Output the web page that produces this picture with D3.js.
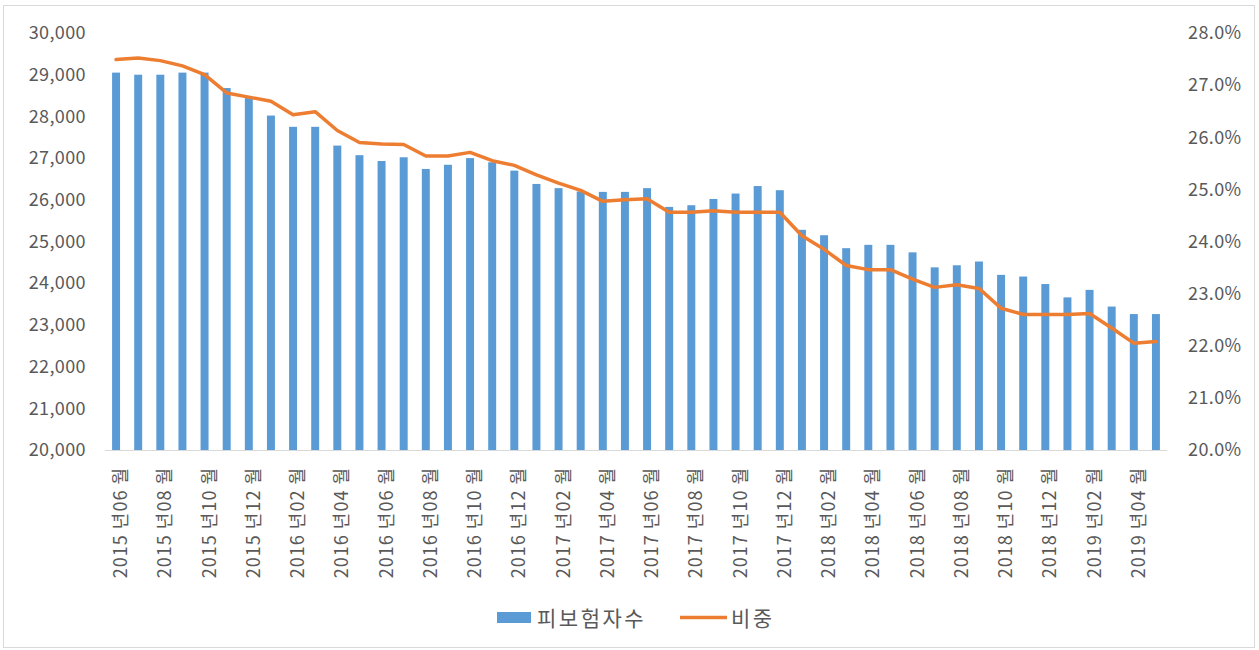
<!DOCTYPE html>
<html><head><meta charset="utf-8">
<script src="https://cdn.jsdelivr.net/npm/d3@7"></script>
<style>
html,body{margin:0;padding:0;background:#fff;}
svg{display:block;}
text{font-family:"Noto Sans CJK KR","Noto Sans",sans-serif;fill:#595959;}
</style></head><body>
<svg id="c" width="1259" height="650"></svg>
<script>
const months = ["2015년06월","2015년07월","2015년08월","2015년09월","2015년10월","2015년11월","2015년12월",
"2016년01월","2016년02월","2016년03월","2016년04월","2016년05월","2016년06월","2016년07월","2016년08월","2016년09월","2016년10월","2016년11월","2016년12월",
"2017년01월","2017년02월","2017년03월","2017년04월","2017년05월","2017년06월","2017년07월","2017년08월","2017년09월","2017년10월","2017년11월","2017년12월",
"2018년01월","2018년02월","2018년03월","2018년04월","2018년05월","2018년06월","2018년07월","2018년08월","2018년09월","2018년10월","2018년11월","2018년12월",
"2019년01월","2019년02월","2019년03월","2019년04월","2019년05월"];
const insured = [29050,29000,29000,29050,29050,28680,28440,28020,27750,27750,27300,27070,26930,27020,
26740,26840,27000,26900,26700,26380,26280,26200,26190,26190,26280,25830,25870,26020,26150,26330,26230,
25280,25150,24840,24920,24920,24740,24380,24430,24520,24200,24160,23980,23660,23840,23440,23260,23260];
const ratio = [27.49,27.52,27.47,27.37,27.20,26.85,26.77,26.69,26.43,26.49,26.13,25.90,25.87,25.86,
25.64,25.64,25.71,25.55,25.46,25.28,25.12,24.98,24.77,24.80,24.82,24.56,24.56,24.59,24.56,24.56,24.56,
24.11,23.85,23.54,23.46,23.46,23.28,23.12,23.17,23.10,22.72,22.60,22.60,22.60,22.62,22.34,22.05,22.08];
const leftTicks = [20000,21000,22000,23000,24000,25000,26000,27000,28000,29000,30000];
const rightTicks = [20,21,22,23,24,25,26,27,28];
const seriesNames = ["피보험자수","비중"];

const svg = d3.select("#c");
// outer border
svg.append("rect").attr("x",3.5).attr("y",5.5).attr("width",1251).attr("height",642)
  .attr("fill","#fff").attr("stroke","#d9d9d9").attr("stroke-width",1);

const x0 = 105, x1 = 1167, yTop = 33, yBot = 450;
const x = d3.scaleBand().domain(months).range([x0,x1]).paddingInner(0.64).paddingOuter(0.32);
const yL = d3.scaleLinear().domain([20000,30000]).range([yBot,yTop]);
const yR = d3.scaleLinear().domain([20,28]).range([yBot,yTop]);

// bars
svg.append("g").selectAll("rect").data(insured).join("rect")
  .attr("x",(d,i)=>x(months[i]))
  .attr("width",x.bandwidth())
  .attr("y",d=>yL(d))
  .attr("height",d=>yBot-yL(d))
  .attr("fill","#5B9BD5");

// baseline
svg.append("line").attr("x1",x0).attr("x2",x1).attr("y1",yBot+0.5).attr("y2",yBot+0.5)
  .attr("stroke","#d9d9d9").attr("stroke-width",1);

// line
const line = d3.line().x((d,i)=>x(months[i])+x.bandwidth()/2).y(d=>yR(d));
svg.append("path").datum(ratio).attr("d",line).attr("fill","none")
  .attr("stroke","#ED7D31").attr("stroke-width",3.5).attr("stroke-linejoin","round").attr("stroke-linecap","round");

const ff = '"Noto Sans CJK KR",sans-serif';
// left axis
const fmt = d3.format(",");
const axL = d3.axisLeft(yL).tickValues(leftTicks).tickFormat(fmt).tickSize(0).tickPadding(0);
const gL = svg.append("g").attr("transform","translate(86,0)").call(axL);
gL.select(".domain").remove();
gL.selectAll("text").attr("font-size",18).attr("letter-spacing",0.4).attr("fill","#595959").style("font-family",ff);

// right axis
const axR = d3.axisRight(yR).tickValues(rightTicks).tickFormat(d=>d3.format(".1f")(d)+"%").tickSize(0).tickPadding(0);
const gR = svg.append("g").attr("transform","translate(1188,0)").call(axR);
gR.select(".domain").remove();
gR.selectAll("text").attr("font-size",18).attr("letter-spacing",0.4).attr("fill","#595959").style("font-family",ff);

// x axis (every other label)
const axX = d3.axisBottom(x).tickValues(months.filter((d,i)=>i%2===0))
  .tickFormat(d=>d.replace("년"," 년").replace(/(\d\d)월$/,"$1 월"))
  .tickSize(0).tickPadding(0);
const gX = svg.append("g").attr("transform",`translate(0,${yBot})`).call(axX);
gX.select(".domain").remove();
gX.selectAll("text").attr("font-size",18).attr("letter-spacing",1).attr("fill","#595959")
  .style("font-family",ff)
  .attr("text-anchor","end").attr("dy",null).attr("y",0)
  .attr("transform","translate(11,17) rotate(-90)");

// legend
const lg = svg.append("g");
lg.append("rect").attr("x",497).attr("y",612).attr("width",34).attr("height",11).attr("fill","#5B9BD5");
lg.append("text").attr("x",537).attr("y",626).attr("font-size",21).attr("letter-spacing",2.5).text(seriesNames[0]);
lg.append("line").attr("x1",680).attr("x2",727).attr("y1",617.5).attr("y2",617.5)
  .attr("stroke","#ED7D31").attr("stroke-width",3.5);
lg.append("text").attr("x",731).attr("y",626).attr("font-size",21).attr("letter-spacing",2.5).text(seriesNames[1]);
</script></body></html>
